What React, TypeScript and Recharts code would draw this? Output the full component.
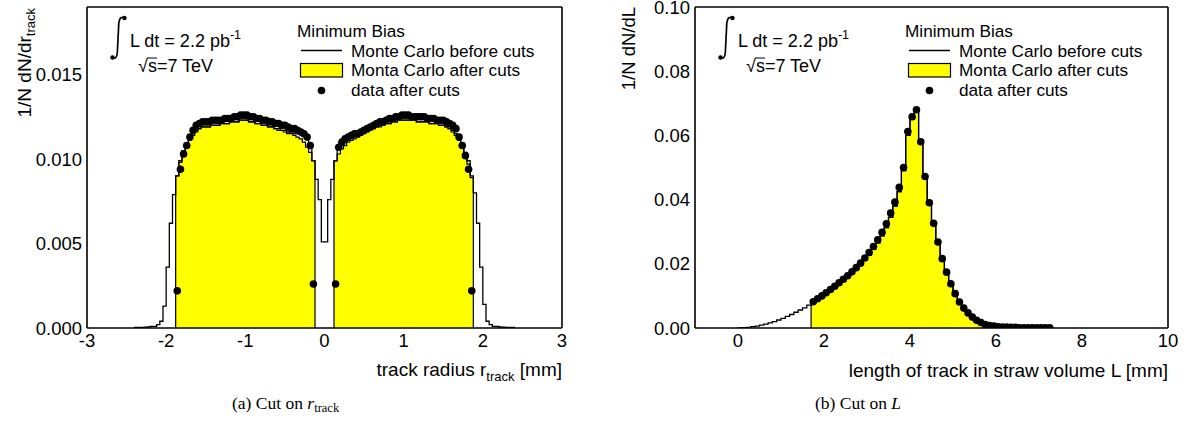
import React from "react";
import { ComposedChart, Area, Line, Scatter, XAxis, YAxis } from "recharts";

const SANS = "'Liberation Sans', Arial, Helvetica, sans-serif";
const SERIF = "'Liberation Serif', 'Times New Roman', serif";
const YELLOW = "#ffff00";

// ---------- (a) cut on track radius, 0.04 mm bins ----------
const rMajorTicks = [-3, -2, -1, 0, 1, 2, 3];
const rMinorTicks = [
  -3, -2.8, -2.6, -2.4, -2.2, -2, -1.8, -1.6, -1.4, -1.2, -1, -0.8, -0.6, -0.4, -0.2, 0,
  0.2, 0.4, 0.6, 0.8, 1, 1.2, 1.4, 1.6, 1.8, 2, 2.2, 2.4, 2.6, 2.8, 3,
];
const rYMajorTicks = [0, 0.005, 0.01, 0.015];
const rYMinorTicks = [
  0, 0.001, 0.002, 0.003, 0.004, 0.005, 0.006, 0.007, 0.008, 0.009, 0.01, 0.011, 0.012,
  0.013, 0.014, 0.015, 0.016, 0.017, 0.018, 0.019,
];
const rBin = 0.04;

// Monte Carlo before cuts, bins from -2.40 to 2.40
const rBeforeFrom = -2.4;
const rBefore = [
  0.00003, 0.00003, 0.00004, 0.00005, 0.00006,
  0.0001, 0.0001, 0.0002, 0.0004, 0.0013, 0.0036, 0.0062, 0.0079, 0.009, 0.0099,
  0.0105, 0.0109, 0.0112, 0.0115, 0.0117, 0.0118, 0.0119, 0.0119, 0.0119, 0.012,
  0.012, 0.012, 0.0121, 0.0121, 0.0121, 0.0122, 0.0122, 0.0122, 0.0123, 0.0123,
  0.0123, 0.0122, 0.0122, 0.0121, 0.0121, 0.012, 0.012, 0.0119, 0.0119, 0.0118,
  0.0118, 0.0117, 0.0117, 0.0116, 0.0116, 0.0115, 0.0115, 0.0115, 0.0114, 0.0112,
  0.0108, 0.0099, 0.0088, 0.0076, 0.0051,
  0.0051, 0.0076, 0.0088, 0.0099, 0.0106, 0.011, 0.0112, 0.0113, 0.0113, 0.0114,
  0.0114, 0.0115, 0.0116, 0.0117, 0.0118, 0.0118, 0.0119, 0.012, 0.012, 0.0121,
  0.0121, 0.0122, 0.0122, 0.0123, 0.0123, 0.0123, 0.0123, 0.0123, 0.0123, 0.0122,
  0.0122, 0.0122, 0.0122, 0.0121, 0.0121, 0.0121, 0.012, 0.012, 0.0119, 0.0118,
  0.0117, 0.0115, 0.0112, 0.0108, 0.0104, 0.0099, 0.009, 0.008, 0.0062, 0.0036,
  0.0014, 0.0004, 0.0002, 0.0001, 0.0001,
  0.00006, 0.00005, 0.00004, 0.00003, 0.00003,
];

// Monte Carlo after cuts (yellow), two lobes
const rAfterLeftFrom = -1.88;
const rAfterLeft = [
  0.009, 0.0098, 0.0104, 0.0108, 0.0111, 0.0114, 0.0116, 0.0118, 0.0119, 0.0119,
  0.0119, 0.012, 0.012, 0.012, 0.0121, 0.0121, 0.0121, 0.0122, 0.0122, 0.0122,
  0.0123, 0.0123, 0.0123, 0.0122, 0.0122, 0.0121, 0.0121, 0.012, 0.012, 0.0119,
  0.0119, 0.0118, 0.0117, 0.0117, 0.0116, 0.0115, 0.0115, 0.0114, 0.0113, 0.0112,
  0.011, 0.0107, 0.0104, 0.0099,
];
const rAfterRightFrom = 0.12;
const rAfterRight = [
  0.0099, 0.0103, 0.0106, 0.0108, 0.011, 0.0111, 0.0112, 0.0113, 0.0114, 0.0115,
  0.0116, 0.0117, 0.0118, 0.0119, 0.0119, 0.012, 0.0121, 0.0121, 0.0122, 0.0122,
  0.0123, 0.0123, 0.0123, 0.0123, 0.0123, 0.0123, 0.0122, 0.0122, 0.0122, 0.0122,
  0.0121, 0.0121, 0.0121, 0.012, 0.012, 0.0119, 0.0118, 0.0116, 0.0114, 0.0111,
  0.0107, 0.0102, 0.0097, 0.0089,
];

// data after cuts, bin centres
const rDataLeftFrom = -1.86;
const rDataLeft = [
  0.0022, 0.0094, 0.0103, 0.0108, 0.0113, 0.0117, 0.012, 0.0121, 0.0122, 0.0122,
  0.0122, 0.0123, 0.0123, 0.0123, 0.0123, 0.0124, 0.0124, 0.0124, 0.0125, 0.0125,
  0.0126, 0.0126, 0.0126, 0.0125, 0.0125, 0.0124, 0.0124, 0.0123, 0.0123, 0.0122,
  0.0122, 0.0121, 0.0121, 0.012, 0.012, 0.0119, 0.0118, 0.0118, 0.0117, 0.0116,
  0.0115, 0.0113, 0.0108, 0.0026,
];
const rDataRightFrom = 0.14;
const rDataRight = [
  0.0026, 0.0107, 0.011, 0.0112, 0.0113, 0.0114, 0.0115, 0.0115, 0.0116, 0.0117,
  0.0118, 0.0119, 0.012, 0.0121, 0.0122, 0.0122, 0.0123, 0.0124, 0.0124, 0.0125,
  0.0125, 0.0126, 0.0126, 0.0126, 0.0125, 0.0125, 0.0125, 0.0125, 0.0125, 0.0124,
  0.0124, 0.0124, 0.0123, 0.0123, 0.0123, 0.0122, 0.0121, 0.012, 0.0118, 0.0113,
  0.0108, 0.0102, 0.0094, 0.0022,
];

// ---------- (b) cut on track length, 0.1 mm bins ----------
const lMajorTicks = [0, 2, 4, 6, 8, 10];
const lMinorTicks = [
  -1, -0.5, 0, 0.5, 1, 1.5, 2, 2.5, 3, 3.5, 4, 4.5, 5, 5.5, 6, 6.5, 7, 7.5, 8, 8.5, 9,
  9.5, 10,
];
const lYMajorTicks = [0, 0.02, 0.04, 0.06, 0.08, 0.1];
const lYMinorTicks = [
  0, 0.005, 0.01, 0.015, 0.02, 0.025, 0.03, 0.035, 0.04, 0.045, 0.05, 0.055, 0.06,
  0.065, 0.07, 0.075, 0.08, 0.085, 0.09, 0.095, 0.1,
];
const lBin = 0.1;
const lBeforeFrom = 0;
const lBefore = [
  0.00003, 0.0001, 0.0002, 0.0004, 0.0006, 0.0009, 0.0012, 0.0016, 0.002, 0.0025,
  0.003, 0.0036, 0.0042, 0.0049, 0.0056, 0.0063, 0.0071,
  0.0079, 0.0087, 0.0096, 0.0105, 0.0115, 0.0125, 0.0135, 0.0146, 0.0157, 0.0169,
  0.0182, 0.0196, 0.0211, 0.0227, 0.0245, 0.0265, 0.0287, 0.0313, 0.0345, 0.038,
  0.0425, 0.049, 0.06, 0.065, 0.0675, 0.0585, 0.0478, 0.0395, 0.033, 0.0272,
  0.022, 0.0176, 0.014, 0.0109, 0.0083, 0.0063, 0.0047, 0.0034, 0.0024, 0.0017,
  0.0011, 0.0008, 0.0005, 0.0004, 0.0003, 0.0002, 0.0002, 0.0001, 0.0001, 0.0001,
  0.0001, 0.00005, 0.00005, 0.00005, 0.00005, 0.00005,
];
const lCutBin = 17; // L > 1.7 mm
const lAfterFrom = 1.7;
const lAfter = lBefore.slice(lCutBin);
const lDataFrom = 1.75;
const lData = [
  0.0082, 0.0091, 0.01, 0.011, 0.012, 0.013, 0.0141, 0.0152, 0.0163, 0.0175,
  0.0188, 0.0202, 0.0218, 0.0235, 0.0254, 0.0275, 0.0298, 0.0325, 0.0358, 0.0392,
  0.0438, 0.05, 0.0612, 0.0658, 0.068, 0.058, 0.0472, 0.039, 0.0326, 0.0268,
  0.0216, 0.0174, 0.0138, 0.0107, 0.0081, 0.0062, 0.0047, 0.0034, 0.0024, 0.0017,
  0.0011, 0.0008, 0.0006, 0.0004, 0.0003, 0.0003, 0.0002, 0.0002, 0.0001, 0.0001,
  0.0001, 0.0001, 0.0001, 0.0001, 0.0001, 0.0001,
];

type Pt = { x: number; y: number };

// histogram outline for type="stepAfter": closed down to zero at both ends
function histSteps(from: number, bin: number, values: number[]): Pt[] {
  const pts: Pt[] = [{ x: from, y: 0 }];
  values.forEach((v, i) => pts.push({ x: from + i * bin, y: v }));
  pts.push({ x: from + values.length * bin, y: 0 });
  return pts;
}

function binPoints(from: number, bin: number, values: number[]): Pt[] {
  return values.map((v, i) => ({ x: from + i * bin, y: v }));
}

const AXIS_LINE = { stroke: "#000", strokeWidth: 1.6 };
const TICK_LINE = { stroke: "#000", strokeWidth: 1.4 };
const TICK_TEXT = { fill: "#000", fontSize: 18.5, fontFamily: SANS };

const DataDot = (p: any) => <circle cx={p.cx} cy={p.cy} r={3.8} fill="#000" />;

interface PanelProps {
  left: number;
  width: number;
  marginRight: number;
  xDomain: [number, number];
  xMajor: number[];
  xMinor: number[];
  xFmt: (v: number) => string;
  yDomain: [number, number];
  yMajor: number[];
  yMinor: number[];
  yFmt: (v: number) => string;
  yMajorLen: number;
  yMinorLen: number;
  before: Pt[];
  afters: Pt[][];
  dots: Pt[];
}

function Panel(p: PanelProps) {
  const common = { type: "number" as const, allowDataOverflow: true, interval: 0 as const };
  return (
    <div style={{ position: "absolute", left: p.left, top: 0 }}>
      <ComposedChart width={p.width} height={434} margin={{ top: 7, right: p.marginRight, bottom: 76, left: 0 }}>
        <XAxis
          {...common}
          xAxisId="x"
          dataKey="x"
          domain={p.xDomain}
          ticks={p.xMajor}
          tickFormatter={p.xFmt}
          tickLine={false}
          tickSize={0}
          tickMargin={6}
          height={30}
          axisLine={AXIS_LINE}
          tick={TICK_TEXT}
        />
        <XAxis {...common} xAxisId="xMaj" domain={p.xDomain} ticks={p.xMajor} mirror tickSize={9} tick={false} axisLine={false} tickLine={TICK_LINE} />
        <XAxis {...common} xAxisId="xMin" domain={p.xDomain} ticks={p.xMinor} mirror tickSize={4.5} tick={false} axisLine={false} tickLine={TICK_LINE} />
        <XAxis {...common} xAxisId="xTopMaj" orientation="top" domain={p.xDomain} ticks={p.xMajor} mirror tickSize={9} tick={false} axisLine={AXIS_LINE} tickLine={TICK_LINE} />
        <XAxis {...common} xAxisId="xTopMin" orientation="top" domain={p.xDomain} ticks={p.xMinor} mirror tickSize={4.5} tick={false} axisLine={false} tickLine={TICK_LINE} />
        <YAxis
          {...common}
          yAxisId="y"
          dataKey="y"
          domain={p.yDomain}
          ticks={p.yMajor}
          tickFormatter={p.yFmt}
          tickLine={false}
          tickSize={0}
          tickMargin={5}
          width={87}
          axisLine={AXIS_LINE}
          tick={TICK_TEXT}
        />
        <YAxis {...common} yAxisId="yMaj" domain={p.yDomain} ticks={p.yMajor} mirror tickSize={p.yMajorLen} tick={false} axisLine={false} tickLine={TICK_LINE} />
        <YAxis {...common} yAxisId="yMin" domain={p.yDomain} ticks={p.yMinor} mirror tickSize={p.yMinorLen} tick={false} axisLine={false} tickLine={TICK_LINE} />
        <YAxis {...common} yAxisId="yRMaj" orientation="right" domain={p.yDomain} ticks={p.yMajor} mirror tickSize={p.yMajorLen} tick={false} axisLine={AXIS_LINE} tickLine={TICK_LINE} />
        <YAxis {...common} yAxisId="yRMin" orientation="right" domain={p.yDomain} ticks={p.yMinor} mirror tickSize={p.yMinorLen} tick={false} axisLine={false} tickLine={TICK_LINE} />

        {p.afters.map((d, i) => (
          <Area
            key={i}
            xAxisId="x"
            yAxisId="y"
            data={d}
            dataKey="y"
            type="stepAfter"
            fill={YELLOW}
            fillOpacity={1}
            stroke="#000"
            strokeWidth={1.2}
            dot={false}
            activeDot={false}
            isAnimationActive={false}
          />
        ))}
        <Line
          xAxisId="x"
          yAxisId="y"
          data={p.before}
          dataKey="y"
          type="stepAfter"
          stroke="#000"
          strokeWidth={1.3}
          dot={false}
          activeDot={false}
          isAnimationActive={false}
        />
        <Scatter xAxisId="x" yAxisId="y" data={p.dots} shape={DataDot} isAnimationActive={false} />
      </ComposedChart>
    </div>
  );
}

// lumi / legend block, drawn for each panel with an x offset
function Labels({ dx }: { dx: number }) {
  const t = { fontFamily: SANS, fontSize: 17.2, fill: "#000" };
  const lumi = { fontFamily: SANS, fontSize: 18, fill: "#000" };
  return (
    <g transform={`translate(${dx},0)`}>
      <path d="M112.5,57.5 Q116.5,60 117.3,53 L118.8,23 Q119.6,15.5 124.5,18" fill="none" stroke="#000" strokeWidth={1.7} />
      <circle cx={112.5} cy={57.5} r={2.2} fill="#000" />
      <circle cx={124.5} cy={18} r={2.2} fill="#000" />
      <text x={130} y={47} {...lumi}>
        L dt = 2.2 pb<tspan dy={-8} fontSize={12.5}>-1</tspan>
      </text>
      <text x={138} y={72} {...lumi}>√s=7 TeV</text>
      <line x1={147} x2={157} y1={58} y2={58} stroke="#000" strokeWidth={1} />

      <text x={297} y={36.5} {...t}>Minimum Bias</text>
      <line x1={301} x2={342} y1={50.5} y2={50.5} stroke="#000" strokeWidth={1.3} />
      <text x={351} y={56.5} {...t}>Monte Carlo before cuts</text>
      <rect x={300.5} y={63.5} width={42} height={13.5} fill={YELLOW} stroke="#000" strokeWidth={1.2} />
      <text x={351} y={75.5} {...t}>Monta Carlo after cuts</text>
      <circle cx={321.5} cy={90.5} r={3.8} fill="#000" />
      <text x={351} y={95.5} {...t}>data after cuts</text>
    </g>
  );
}

export default function App() {
  const t = { fontFamily: SANS, fontSize: 19, fill: "#000" };
  const cap = { fontFamily: SERIF, fontSize: 17.5, fill: "#000" };
  return (
    <div style={{ position: "relative", width: 1192, height: 434, background: "#fff", overflow: "hidden" }}>
      <style>{"body{margin:0}"}</style>
      <Panel
        left={0}
        width={600}
        marginRight={38}
        xDomain={[-3, 3]}
        xMajor={rMajorTicks}
        xMinor={rMinorTicks}
        xFmt={(v) => String(v)}
        yDomain={[0, 0.019]}
        yMajor={rYMajorTicks}
        yMinor={rYMinorTicks}
        yFmt={(v) => v.toFixed(3)}
        yMajorLen={14}
        yMinorLen={7}
        before={histSteps(rBeforeFrom, rBin, rBefore)}
        afters={[histSteps(rAfterLeftFrom, rBin, rAfterLeft), histSteps(rAfterRightFrom, rBin, rAfterRight)]}
        dots={[...binPoints(rDataLeftFrom, rBin, rDataLeft), ...binPoints(rDataRightFrom, rBin, rDataRight)]}
      />
      <Panel
        left={608}
        width={584}
        marginRight={24}
        xDomain={[-1, 10]}
        xMajor={lMajorTicks}
        xMinor={lMinorTicks}
        xFmt={(v) => String(v)}
        yDomain={[0, 0.1]}
        yMajor={lYMajorTicks}
        yMinor={lYMinorTicks}
        yFmt={(v) => v.toFixed(2)}
        yMajorLen={13}
        yMinorLen={6.5}
        before={histSteps(lBeforeFrom, lBin, lBefore)}
        afters={[histSteps(lAfterFrom, lBin, lAfter)]}
        dots={binPoints(lDataFrom, lBin, lData)}
      />
      <svg width={1192} height={434} style={{ position: "absolute", left: 0, top: 0, pointerEvents: "none" }}>
        <Labels dx={0} />
        <Labels dx={608} />

        <text transform="translate(31,8) rotate(-90)" textAnchor="end" {...t}>
          1/N dN/dr<tspan dy={4} fontSize={13}>track</tspan>
        </text>
        <text transform="translate(635,7) rotate(-90)" textAnchor="end" fontSize={18.5} fontFamily={SANS}>1/N dN/dL</text>

        <text x={562} y={376} textAnchor="end" {...t}>
          track radius r<tspan dy={5} fontSize={13}>track</tspan>
          <tspan dy={-5}> [mm]</tspan>
        </text>
        <text x={1168} y={377} textAnchor="end" {...t}>length of track in straw volume L [mm]</text>

        <text x={232} y={409} {...cap}>
          (a) Cut on <tspan fontStyle="italic">r</tspan>
          <tspan dy={3} fontSize={12.5}>track</tspan>
        </text>
        <text x={815} y={409} {...cap}>
          (b) Cut on <tspan fontStyle="italic">L</tspan>
        </text>
      </svg>
    </div>
  );
}
